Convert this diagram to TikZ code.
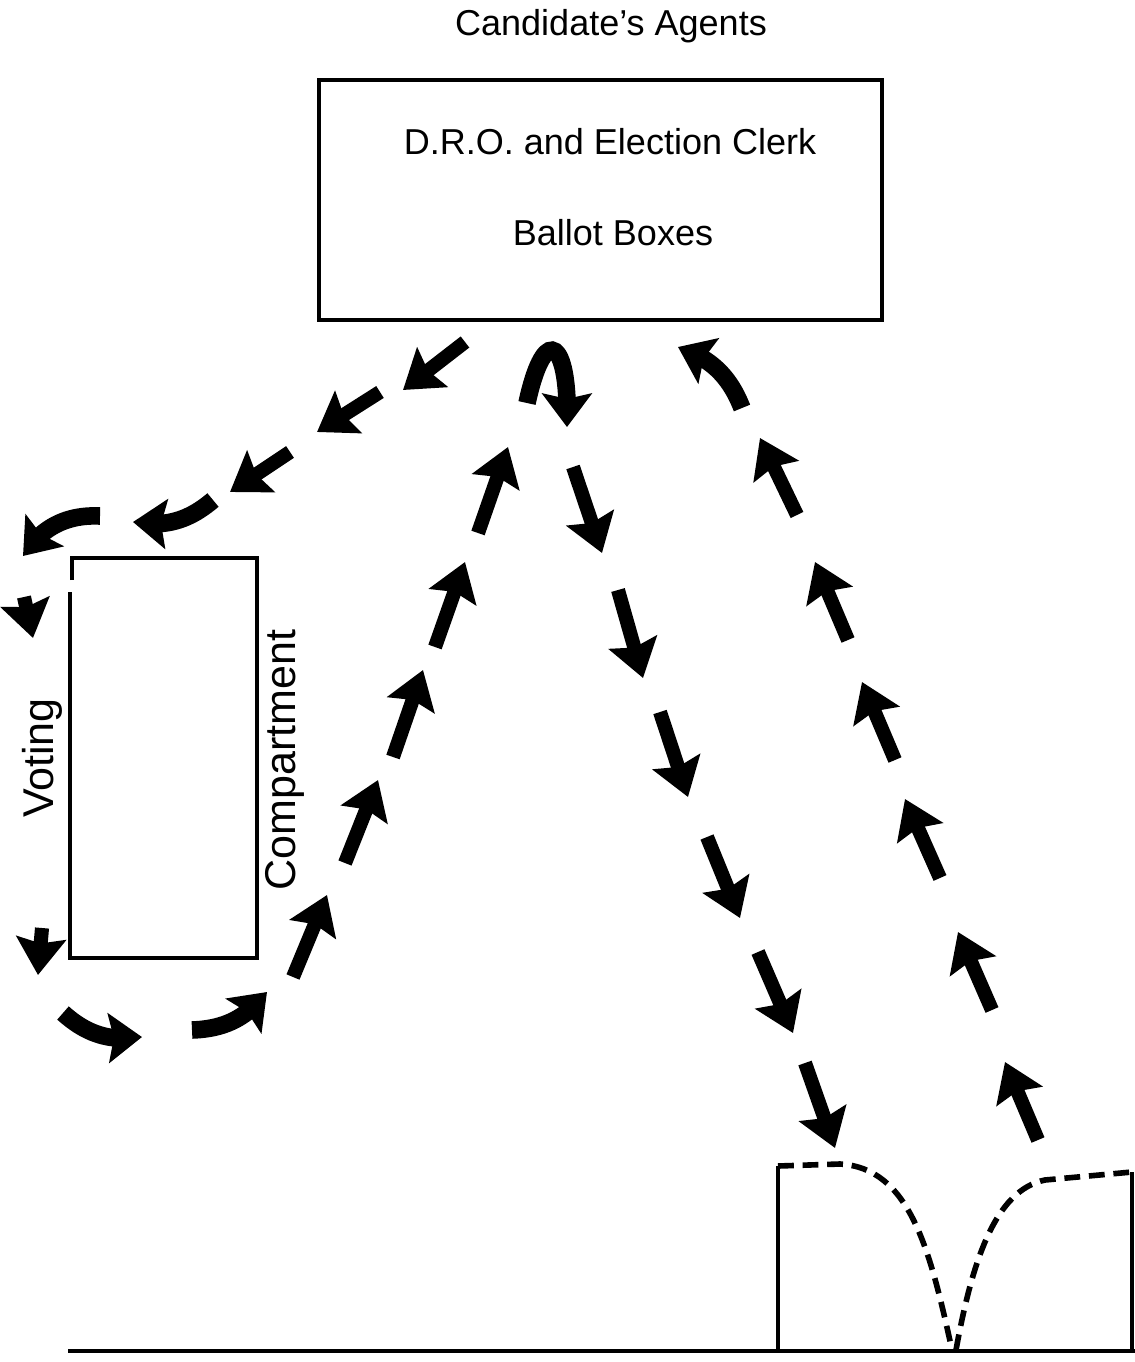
\documentclass[tikz,border=0pt]{standalone}
\usepackage{fontspec}
\setmainfont{Liberation Sans}
\usetikzlibrary{arrows.meta,bending}
\begin{document}
\begin{tikzpicture}[
    x=0.02cm, y=-0.02cm,
    wall/.style={line width=2.4pt},
    door/.style={line width=3.2pt, dash pattern=on 9pt off 5pt},
    flow/.style={line width=8pt, -{Stealth[length=21pt,width=28pt,inset=3pt]}},
    bigflow/.style={line width=10pt, -{Stealth[length=19pt,width=28pt,inset=3pt]}},
    label/.style={font=\fontsize{20.5}{24}\selectfont, inner sep=0pt},
    sidelabel/.style={font=\fontsize{24.5}{28}\selectfont, inner sep=0pt, rotate=90}
  ]
  \useasboundingbox (0,0) rectangle (1135,1362);

  % Presiding table
  \draw[wall] (319,80) rectangle (882,320);
  \node[label] (agents) at (611,26) {Candidate’s Agents};
  \node[label] (clerk) at (610,142) {D.R.O. and Election Clerk};
  \node[label] (boxes) at (613,233) {Ballot Boxes};

  % Voting compartment
  \draw[wall] (72,580) -- (72,558) -- (257,558) -- (257,958) -- (70,958) -- (70,592);
  \node[sidelabel] (voting) at (42,758) {Voting};
  \node[sidelabel] (compartment) at (285,760) {Compartment};

  % Floor and doors
  \draw[wall] (68,1351) -- (1135,1351);
  \draw[wall] (778,1351) -- (778,1166);
  \draw[wall] (1132,1351) -- (1132,1172);
  \draw[door] (778,1166) -- (840,1164) .. controls (910,1168) and (930,1250) .. (952,1350);
  \draw[door] (956,1350) .. controls (972,1262) and (995,1190) .. (1045,1180) -- (1132,1172);

  % Table to compartment
  \foreach \ax/\ay/\bx/\by in {465/342/403/390, 380/392/317/432, 290/452/230/492}
    \draw[flow] (\ax,\ay) -- (\bx,\by);
  \draw[bigflow] (213,500) to[bend left=25] (133,522);
  \draw[bigflow] (100,516) to[bend right=30] (23,556);
  \draw[flow] (24,597) -- (33,638);
  \draw[flow] (42,928) -- (38,975);
  \draw[bigflow] (63,1013) to[bend right=25] (142,1037);
  \draw[bigflow] (192,1030) to[bend right=25] (267,992);

  % Compartment back to table
  \foreach \ax/\ay/\bx/\by in {293/977/327/895, 345/863/378/780, 393/757/423/670,
                               435/647/465/562, 478/533/508/447}
    \draw[flow] (\ax,\ay) -- (\bx,\by);

  % Table to exit
  \draw[bigflow] (527,403) .. controls (545,320) and (570,340) .. (567,427);
  \foreach \ax/\ay/\bx/\by in {573/467/602/553, 618/590/643/678, 660/712/688/797,
                               707/837/740/918, 758/952/793/1033, 805/1063/835/1148}
    \draw[flow] (\ax,\ay) -- (\bx,\by);

  % Entrance to table
  \foreach \ax/\ay/\bx/\by in {1038/1140/1005/1062, 992/1010/958/932, 940/878/905/799,
                               895/760/862/682, 848/640/815/562, 797/515/760/438}
    \draw[flow] (\ax,\ay) -- (\bx,\by);
  \draw[bigflow] (742,408) to[bend right=25] (678,347);
\end{tikzpicture}
\end{document}
